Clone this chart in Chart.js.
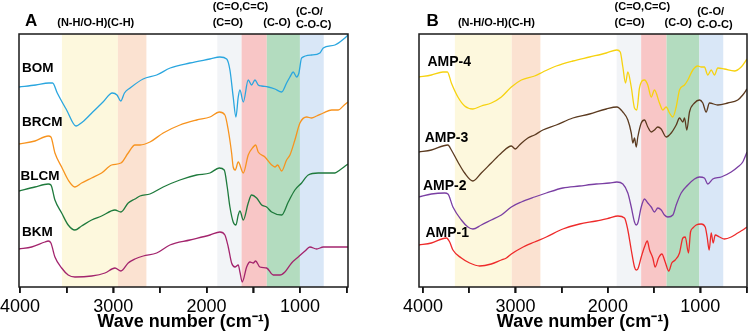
<!DOCTYPE html>
<html>
<head>
<meta charset="utf-8">
<script src="https://cdn.jsdelivr.net/npm/chart.js@4.4.1/dist/chart.umd.min.js"></script>
<style>
  body { margin: 0; background: #fff; }
  canvas { position: absolute; top: 0; }
  #chartA { left: 0; }
  #chartB { left: 375px; }
</style>
</head>
<body>
<canvas id="chartA" width="375" height="333"></canvas>
<canvas id="chartB" width="375" height="333"></canvas>
<script>
// spectra: [wave number (cm-1), transmittance (a.u.)]
var bom = [[4010,200],[3830,202],[3690,204],[3650,204],[3600,194],[3500,177],[3400,161],[3330,165],[3220,175],[3110,185],[3010,194],[2960,192],[2920,186],[2880,194],[2820,199],[2680,208],[2535,212],[2390,219],[2180,224],[1965,228],[1857,230],[1785,228],[1750,217],[1715,190],[1686,170],[1661,190],[1643,197],[1607,185],[1554,207],[1518,202],[1482,207],[1447,202],[1410,201],[1340,200],[1268,198],[1196,195],[1143,204],[1107,210],[1072,215],[1035,210],[1011,214],[982,229],[875,232],[786,234],[750,239],[625,242],[518,249],[485,252]];
var brcm = [[4010,143],[3839,146],[3697,151],[3668,150],[3625,134],[3553,120],[3483,107],[3411,100],[3339,104],[3232,109],[3125,114],[3018,122],[2918,124],[2840,134],[2768,142],[2714,142],[2607,145],[2465,154],[2286,162],[2107,167],[1964,170],[1865,175],[1804,172],[1768,157],[1732,134],[1715,120],[1693,117],[1661,125],[1607,114],[1554,132],[1500,140],[1475,142],[1447,135],[1375,130],[1303,122],[1268,120],[1239,122],[1196,116],[1143,127],[1107,132],[1054,147],[1000,164],[928,170],[875,169],[821,171],[750,174],[660,177],[590,177],[536,181],[485,185]];
var blcm = [[4010,96],[3839,100],[3697,103],[3668,102],[3625,87],[3553,74],[3483,62],[3411,57],[3339,61],[3232,67],[3125,71],[2982,77],[2918,75],[2840,84],[2768,88],[2714,91],[2607,93],[2465,100],[2286,107],[2107,112],[1964,114],[1865,119],[1811,117],[1779,100],[1750,80],[1715,65],[1686,62],[1661,72],[1643,76],[1607,67],[1554,84],[1518,92],[1464,89],[1410,82],[1357,80],[1303,75],[1196,72],[1125,85],[1054,97],[982,104],[911,112],[804,114],[697,114],[625,114],[572,117],[500,122],[485,123]];
var bkm = [[4010,38],[3875,40],[3732,45],[3697,46],[3668,44],[3625,30],[3553,19],[3483,12],[3411,10],[3232,11],[3089,14],[2982,19],[2918,16],[2840,24],[2768,28],[2679,31],[2535,34],[2393,42],[2179,47],[1964,52],[1857,55],[1804,52],[1768,40],[1732,24],[1696,20],[1661,22],[1643,15],[1618,5],[1571,20],[1536,25],[1500,24],[1475,26],[1429,20],[1357,19],[1286,12],[1214,12],[1161,15],[1089,24],[1018,30],[946,36],[893,40],[821,38],[750,40],[625,40],[485,40]];

var amp4 = [[4045,210],[3909,212],[3784,215],[3736,215],[3693,204],[3622,190],[3549,181],[3460,178],[3369,181],[3261,184],[3152,190],[3044,200],[2936,207],[2793,211],[2703,215],[2558,221],[2379,226],[2198,230],[2017,234],[1903,237],[1866,235],[1838,220],[1809,204],[1784,215],[1747,200],[1712,179],[1687,177],[1658,199],[1604,207],[1568,202],[1531,190],[1496,197],[1442,184],[1406,177],[1369,180],[1333,174],[1298,170],[1261,180],[1225,197],[1171,202],[1135,207],[1081,217],[1027,221],[990,220],[956,220],[919,212],[882,217],[847,212],[811,219],[739,218],[631,216],[558,220],[495,228]];
var amp3 = [[4045,135],[3909,137],[3730,142],[3693,137],[3622,125],[3549,114],[3460,106],[3369,114],[3261,124],[3152,134],[3044,141],[3001,138],[2955,142],[2865,149],[2793,152],[2703,157],[2558,162],[2379,169],[2198,173],[2017,178],[1903,180],[1838,175],[1784,167],[1747,154],[1730,144],[1712,149],[1693,140],[1676,150],[1639,164],[1604,167],[1568,160],[1531,155],[1496,157],[1460,160],[1423,158],[1369,150],[1315,154],[1261,162],[1225,169],[1189,165],[1171,169],[1146,157],[1117,175],[1063,184],[1009,187],[973,184],[937,175],[901,184],[811,182],[703,184],[595,187],[541,192],[495,198]];
var amp2 = [[4045,90],[3909,93],[3765,94],[3730,93],[3676,80],[3585,67],[3514,60],[3460,58],[3369,62],[3261,67],[3152,72],[3044,80],[2936,85],[2793,90],[2666,94],[2487,99],[2306,101],[2126,103],[1982,104],[1903,105],[1838,103],[1784,94],[1747,80],[1712,65],[1693,62],[1676,64],[1639,80],[1604,88],[1568,84],[1531,80],[1496,75],[1460,79],[1423,77],[1388,72],[1351,70],[1297,72],[1261,82],[1207,94],[1135,102],[1063,108],[1009,110],[956,109],[919,103],[865,108],[774,110],[666,115],[595,120],[541,125],[495,135]];
var amp1 = [[4045,42],[3909,44],[3747,49],[3711,45],[3676,37],[3585,29],[3495,24],[3387,21],[3261,23],[3152,27],[3098,29],[3044,33],[2936,39],[2793,45],[2666,50],[2487,58],[2306,63],[2126,66],[1982,69],[1892,71],[1820,69],[1784,57],[1747,37],[1712,20],[1693,17],[1676,18],[1639,30],[1604,40],[1574,46],[1549,37],[1514,29],[1488,20],[1452,29],[1416,33],[1380,25],[1341,16],[1309,24],[1272,27],[1225,34],[1189,49],[1163,50],[1128,34],[1106,55],[1081,59],[1045,62],[990,63],[947,60],[926,50],[904,37],[882,54],[861,44],[839,52],[793,50],[739,48],[666,50],[595,54],[541,57],[495,60]];

// shaded regions [from, to] in cm-1
var bandsA = [[3550,2950],[2950,2645],[1885,1625],[1625,1355],[1355,1000],[1000,745]];
var bandsB = [[3655,3040],[3040,2730],[1905,1640],[1640,1365],[1365,1010],[1010,752]];
var bandColors = ['#fdf8dd', '#fbe2d1', '#f2f4f7', '#f8c6c6', '#b3dcbf', '#d9e7f7'];

// assignments above the frame: text, wave number (left edge), height
var notesA = [['(N-H/O-H)(C-H)',3600,264],['(C=O,C=C)',1935,280.5],['(C=O)',1935,264],['(C-O)',1393,264],['(C-O/',1043,275],['C-O-C)',1043,262.5]];
var notesB = [['(N-H/O-H)(C-H)',3622,264],['(C=O,C=C)',1928,280.5],['(C=O)',1928,264],['(C-O)',1387,264],['(C-O/',1034,275],['C-O-C)',1034,262.5]];

// sample names: text, wave number, height
var namesA = [['BOM',3979,219],['BRCM',3979,164.5],['BLCM',3993,111],['BKM',3979,55]];
var namesB = [['AMP-4',3952,225],['AMP-3',3982,149],['AMP-2',4000,101],['AMP-1',3974,54]];

var tickValues = [4000, 3500, 3000, 2500, 2000, 1500, 1000, 500];

var FONT = '"Liberation Sans", Arial, sans-serif';

var decor = {
  id: 'decor',
  beforeDatasetsDraw: function(chart, args, o) {
    var ctx = chart.ctx, a = chart.chartArea, x = chart.scales.x;
    ctx.save();
    o.bands.forEach(function(b, i) {
      var x1 = x.getPixelForValue(b[0]), x2 = x.getPixelForValue(b[1]);
      ctx.fillStyle = bandColors[i];
      ctx.fillRect(Math.min(x1, x2), a.top, Math.abs(x2 - x1), a.height);
    });
    ctx.restore();
  },
  afterDatasetsDraw: function(chart, args, o) {
    var ctx = chart.ctx, a = chart.chartArea, x = chart.scales.x, y = chart.scales.y;
    ctx.save();
    ctx.strokeStyle = '#1a1a1a';
    ctx.lineWidth = 1.5;
    ctx.strokeRect(a.left, a.top, a.width, a.height);
    // outward tick marks
    ctx.beginPath();
    tickValues.forEach(function(v) {
      var px = Math.round(x.getPixelForValue(v));
      ctx.moveTo(px, a.bottom);
      ctx.lineTo(px, a.bottom + 6);
    });
    ctx.stroke();
    ctx.fillStyle = '#000';
    ctx.textBaseline = 'middle';
    ctx.textAlign = 'left';
    ctx.font = 'bold 11px ' + FONT;
    o.notes.forEach(function(n) {
      ctx.fillText(n[0], x.getPixelForValue(n[1]), y.getPixelForValue(n[2]));
    });
    ctx.font = 'bold ' + o.nameSize + 'px ' + FONT;
    o.names.forEach(function(n) {
      ctx.fillText(n[0], x.getPixelForValue(n[1]), y.getPixelForValue(n[2]));
    });
    ctx.font = 'bold 17px ' + FONT;
    ctx.fillText(o.letter[0], x.getPixelForValue(o.letter[1]), y.getPixelForValue(265.3));
    ctx.restore();
  }
};

function makeChart(id, series, colors, xMin, xMax, pad, opts) {
  var ctx = document.getElementById(id).getContext('2d');
  return new Chart(ctx, {
    type: 'line',
    data: {
      datasets: series.map(function(s, i) {
        return {
          data: s.map(function(p) { return {x: p[0], y: p[1]}; }),
          borderColor: colors[i],
          borderWidth: 1.3,
          pointRadius: 0,
          fill: false,
          cubicInterpolationMode: 'monotone'
        };
      })
    },
    options: {
      responsive: false,
      animation: false,
      devicePixelRatio: 1,
      layout: { padding: pad },
      plugins: {
        legend: { display: false },
        tooltip: { enabled: false },
        decor: opts
      },
      scales: {
        x: {
          type: 'linear',
          min: xMin,
          max: xMax,
          reverse: true,
          afterBuildTicks: function(s) { s.ticks = tickValues.map(function(v) { return {value: v}; }); },
          afterFit: function(s) { s.height = 46; s.paddingLeft = 0; s.paddingRight = 0; },
          ticks: {
            callback: function(v) { return v % 1000 === 0 ? v : ''; },
            autoSkip: false,
            maxRotation: 0,
            minRotation: 0,
            padding: 3,
            color: '#000',
            font: { size: 18, family: FONT }
          },
          grid: { drawOnChartArea: false, drawTicks: true, tickLength: 6, color: '#000', lineWidth: 1.5 },
          border: { display: false },
          title: {
            display: true,
            text: 'Wave number (cm\u207B\u00B9)',
            color: '#000',
            padding: { top: 0, bottom: 0 },
            font: { size: 18, weight: 'bold', family: FONT }
          }
        },
        y: { display: false, min: 0, max: 253 }
      }
    },
    plugins: [decor]
  });
}

makeChart('chartA', [bom, brcm, blcm, bkm], ['#2aa6df', '#f7931e', '#1e7a3c', '#a3246d'],
  485, 4010, { left: 19, right: 27, top: 34, bottom: 0 },
  { bands: bandsA, notes: notesA, names: namesA, nameSize: 13.5, letter: ['A', 3946] });

makeChart('chartB', [amp4, amp3, amp2, amp1], ['#f6d20f', '#5b3a1f', '#7a3fa3', '#ee2a2a'],
  495, 4043, { left: 44, right: 3, top: 34, bottom: 0 },
  { bands: bandsB, notes: notesB, names: namesB, nameSize: 14, letter: ['B', 3963] });
</script>
</body>
</html>
